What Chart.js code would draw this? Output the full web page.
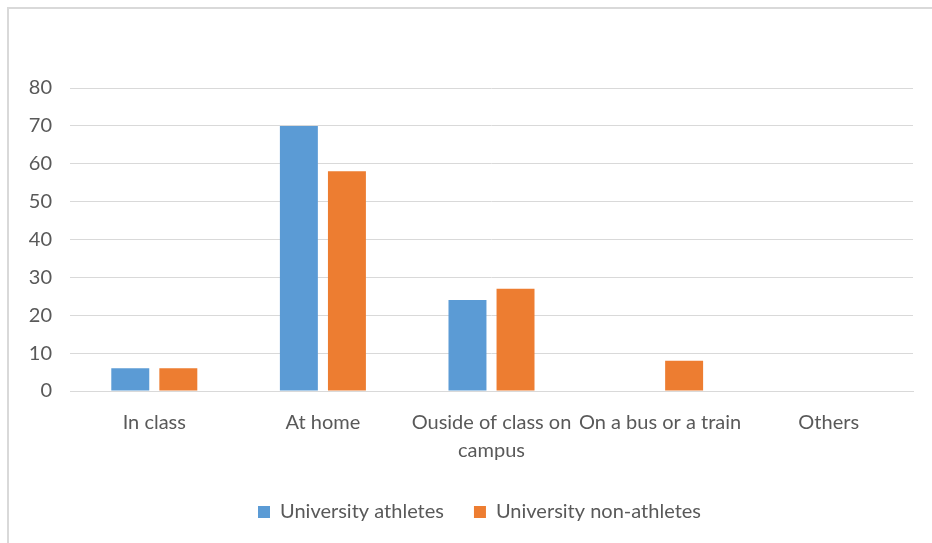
<!DOCTYPE html>
<html>
<head>
<meta charset="utf-8">
<script src="https://cdn.jsdelivr.net/npm/chart.js@4"></script>
<style>
  html, body { margin: 0; padding: 0; background: #fff; }
  #wrap { position: relative; width: 932px; height: 543px; }
  #frame { position: absolute; left: 7px; top: 7px; width: 940px; height: 560px; border: 2px solid #d9d9d9; pointer-events: none; }
  canvas { position: absolute; left: 0; top: 0; }
</style>
</head>
<body>
<div id="wrap">
  <canvas id="myChart" width="932" height="543"></canvas>
  <div id="frame"></div>
</div>
<script>
// chart data
const categories = ["In class", "At home", ["Ouside of class on", "campus"], "On a bus or a train", "Others"];
const athletes = [6, 70, 24, 0, 0];
const nonAthletes = [6, 58, 27, 8, 0];
const yTicks = [0, 10, 20, 30, 40, 50, 60, 70, 80];

const textColor = "#595959";
const fontFamily = "Lato, 'Open Sans', sans-serif";

// move the legend a bit, like the excel one
const legendShift = {
  id: "legendShift",
  afterLayout(chart) {
    chart.legend.left += 18;
    chart.legend.right += 18;
    chart.legend.top -= 3;
    chart.legend.bottom -= 3;
  }
};

const ctx = document.getElementById("myChart").getContext("2d");

new Chart(ctx, {
  type: "bar",
  data: {
    labels: categories,
    datasets: [
      { label: "University athletes", data: athletes, backgroundColor: "#5B9BD5" },
      { label: "University non-athletes", data: nonAthletes, backgroundColor: "#ED7D31" }
    ]
  },
  plugins: [legendShift],
  options: {
    responsive: false,
    animation: false,
    categoryPercentage: 0.57,
    barPercentage: 0.79,
    layout: { padding: { left: 10, right: 19, top: 88, bottom: 8 } },
    plugins: {
      tooltip: { enabled: false },
      legend: {
        position: "bottom",
        labels: {
          color: textColor,
          font: { family: fontFamily, size: 20 },
          boxWidth: 12,
          boxHeight: 12,
          padding: 30
        }
      }
    },
    scales: {
      x: {
        grid: { display: false },
        border: { color: "#d9d9d9", width: 1 },
        ticks: {
          color: textColor,
          font: { family: fontFamily, size: 20, lineHeight: 1.4 },
          maxRotation: 0,
          autoSkip: false,
          padding: 10
        }
      },
      y: {
        min: 0,
        max: 80,
        afterFit: (scale) => { scale.width = 60; },
        afterBuildTicks: (scale) => { scale.ticks = yTicks.map(v => ({ value: v })); },
        grid: { color: "#d9d9d9", drawTicks: false },
        border: { display: false },
        ticks: {
          color: textColor,
          font: { family: fontFamily, size: 20 },
          padding: 18
        }
      }
    }
  }
});
</script>
</body>
</html>
